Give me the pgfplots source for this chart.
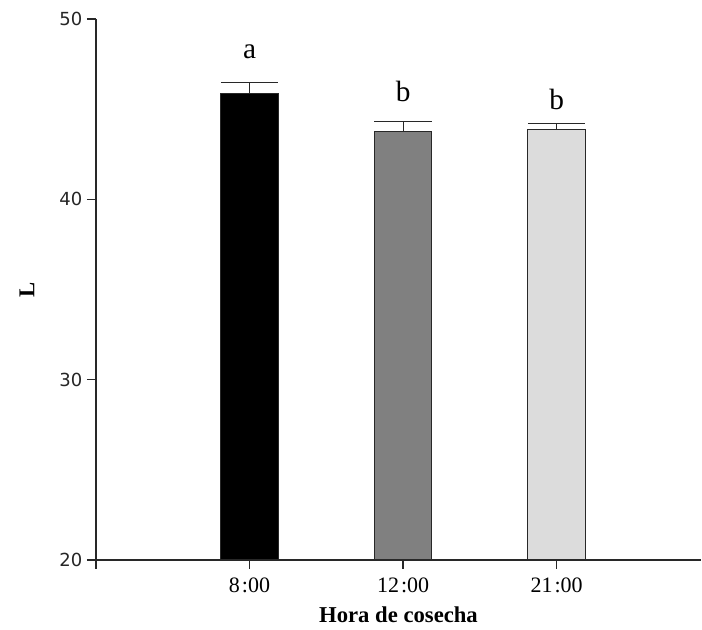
\documentclass[border=0pt]{standalone}
\usepackage{pgfplots}
\pgfplotsset{compat=1.18}
\usepackage{fontspec}
\setmainfont{Liberation Serif}
\newfontfamily\dejavu{DejaVu Sans}
\usetikzlibrary{calc}
\definecolor{barmid}{RGB}{128,128,128}
\definecolor{barlight}{RGB}{220,220,220}
\definecolor{edge}{RGB}{40,40,40}
\begin{document}
\begin{tikzpicture}
\begin{axis}[
  scale only axis,
  width=453.75pt, height=405.75pt,
  xmin=0, xmax=3.94, ymin=20, ymax=50,
  axis lines=left,
  axis line style={-, line width=1pt, edge},
  xtick={0,1,2,3},
  xticklabels={,8{\kern1.5pt}:00,12{\kern1.5pt}:00,21{\kern1.5pt}:00},
  ytick={20,30,40,50},
  tick align=outside,
  major tick length=6.75pt,
  tick style={line width=1pt, edge},
  /pgf/number format/assume math mode=true,
  yticklabel style={font=\dejavu\fontsize{13.5}{16}\selectfont, text=black!85},
  xticklabel style={font=\fontsize{16.5}{19}\selectfont, yshift=-3pt},
  xlabel={\textbf{Hora de cosecha}},
  ylabel={\textbf{L}},
  xlabel style={font=\fontsize{17}{20}\selectfont, at={(axis description cs:0.5,0)}, anchor=base, yshift=-47.25pt},
  ylabel style={font=\fontsize{17}{20}\selectfont, at={(axis description cs:0,0.5)}, anchor=center, yshift=51.75pt},
]
\addplot[ybar, bar width=43pt, bar shift=0pt, fill=black, draw=edge, line width=0.75pt,
  error bars/.cd, y dir=plus, y explicit,
  error bar style={line width=0.75pt, edge},
  error mark options={rotate=90, mark size=21.5pt, line width=0.75pt, edge}]
  coordinates {(1,45.85) +- (0,0.62)};
\addplot[ybar, bar width=43pt, bar shift=0pt, fill=barmid, draw=edge, line width=0.75pt,
  error bars/.cd, y dir=plus, y explicit,
  error bar style={line width=0.75pt, edge},
  error mark options={rotate=90, mark size=21.5pt, line width=0.75pt, edge}]
  coordinates {(2,43.75) +- (0,0.56)};
\addplot[ybar, bar width=43pt, bar shift=0pt, fill=barlight, draw=edge, line width=0.75pt,
  error bars/.cd, y dir=plus, y explicit,
  error bar style={line width=0.75pt, edge},
  error mark options={rotate=90, mark size=21.5pt, line width=0.75pt, edge}]
  coordinates {(3,43.89) +- (0,0.29)};
\node[anchor=base, font=\fontsize{22}{26}\selectfont] at (axis cs:1,47.83) {a};
\node[anchor=base, font=\fontsize{22}{26}\selectfont] at (axis cs:2,45.42) {b};
\node[anchor=base, font=\fontsize{22}{26}\selectfont] at (axis cs:3,44.96) {b};
\end{axis}
\pgfresetboundingbox
\path[use as bounding box] ($(current axis.south west)+(-72pt,-52.5pt)$) rectangle ($(current axis.north east)+(0.75pt,14.25pt)$);
\end{tikzpicture}
\end{document}
